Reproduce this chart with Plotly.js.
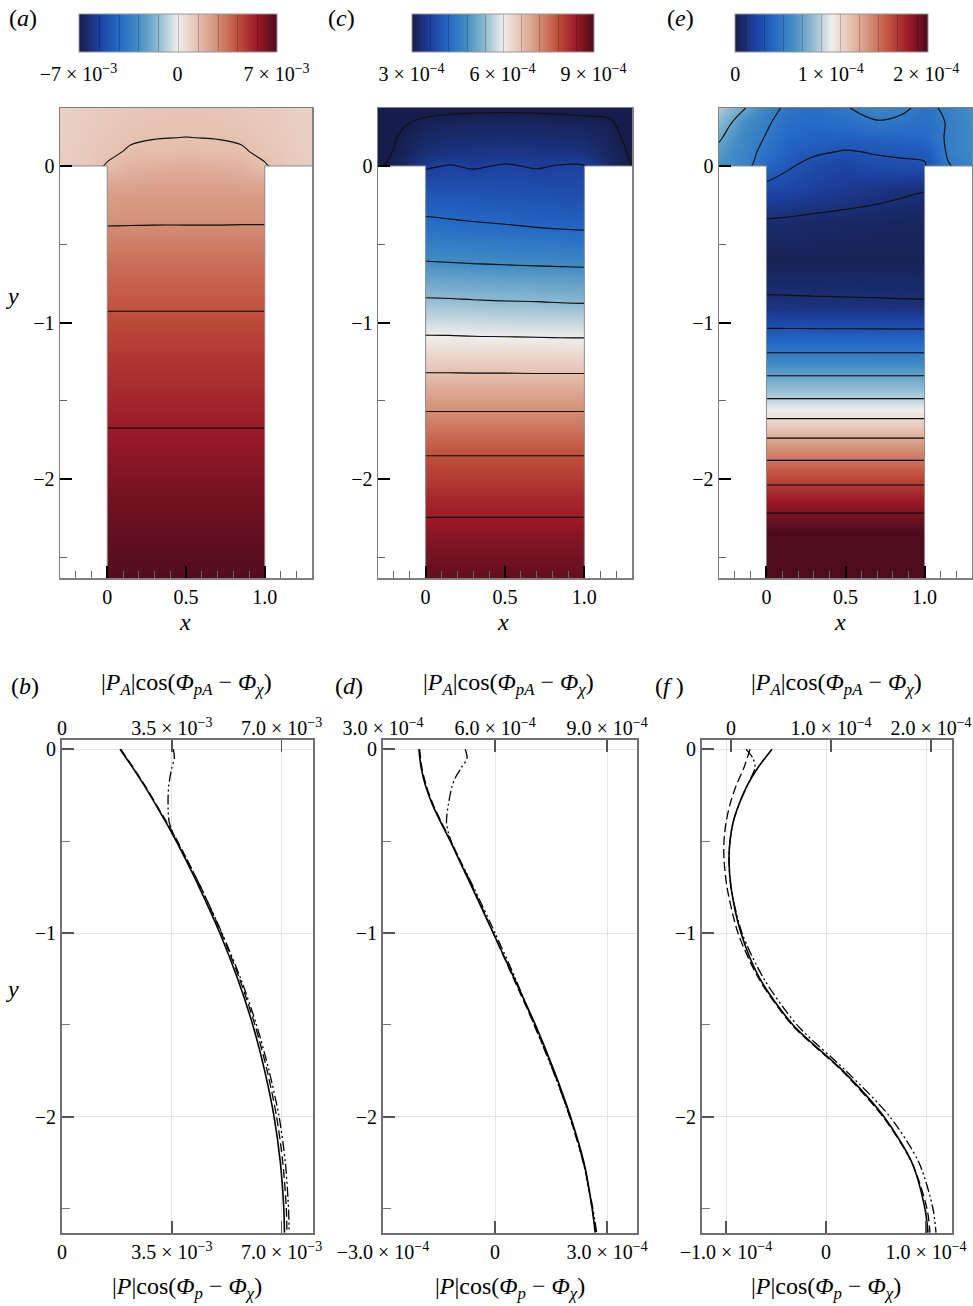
<!DOCTYPE html>
<html><head><meta charset="utf-8">
<script src="https://cdn.plot.ly/plotly-3.0.1.min.js"></script>
<style>html,body{margin:0;padding:0;background:#fff}</style>
</head><body><div id="chart" style="width:973px;height:1306px"></div>
<script>
// ================= DATA =================
// contour grid (x across the cavity/channel, y depth)
const X_GRID = [-0.3, -0.15, 0, 0.15, 0.3, 0.5, 0.7, 0.85, 1.0, 1.15, 1.3];
const Y_GRID = [0.37, 0.28, 0.18, 0.09, 0, -0.15, -0.35, -0.6, -0.9, -1.2, -1.5, -1.8, -2.1, -2.4, -2.63];

// (a) field, units of 1e-3 (rows follow Y_GRID)
const Z_A = [
  [0.85, 1.0, 1.1, 1.18, 1.22, 1.25, 1.22, 1.18, 1.1, 1.0, 0.85],
  [0.88, 1.02, 1.13, 1.22, 1.27, 1.3, 1.27, 1.22, 1.13, 1.02, 0.88],
  [0.9, 1.05, 1.18, 1.33, 1.39, 1.405, 1.39, 1.33, 1.18, 1.05, 0.9],
  [0.95, 1.1, 1.28, 1.47, 1.48, 1.52, 1.48, 1.47, 1.28, 1.1, 0.95],
  [1.0, 1.15, 1.45, 1.75, 1.85, 1.9, 1.85, 1.75, 1.45, 1.15, 1.0],
  [2.25, 2.25, 2.25, 2.28, 2.3, 2.3, 2.3, 2.28, 2.25, 2.25, 2.25],
  [2.7, 2.7, 2.7, 2.71, 2.72, 2.72, 2.72, 2.73, 2.73, 2.73, 2.73],
  [3.45, 3.45, 3.45, 3.45, 3.45, 3.45, 3.45, 3.45, 3.45, 3.45, 3.45],
  [4.14, 4.14, 4.14, 4.14, 4.14, 4.14, 4.14, 4.14, 4.14, 4.14, 4.14],
  [4.8, 4.8, 4.8, 4.8, 4.8, 4.8, 4.8, 4.8, 4.8, 4.8, 4.8],
  [5.3, 5.3, 5.3, 5.3, 5.3, 5.3, 5.3, 5.3, 5.3, 5.3, 5.3],
  [5.82, 5.82, 5.82, 5.82, 5.82, 5.82, 5.82, 5.82, 5.82, 5.82, 5.82],
  [6.3, 6.3, 6.3, 6.3, 6.3, 6.3, 6.3, 6.3, 6.3, 6.3, 6.3],
  [6.68, 6.68, 6.68, 6.68, 6.68, 6.68, 6.68, 6.68, 6.68, 6.68, 6.68],
  [6.9, 6.9, 6.9, 6.9, 6.9, 6.9, 6.9, 6.9, 6.9, 6.9, 6.9]
];
// (c) field, units of 1e-4
const Z_C = [
  [2.6, 2.75, 2.85, 2.9, 2.92, 2.93, 2.92, 2.9, 2.88, 2.85, 2.65],
  [2.7, 2.95, 3.08, 3.12, 3.14, 3.15, 3.14, 3.12, 3.1, 3.06, 2.8],
  [2.8, 3.05, 3.2, 3.25, 3.27, 3.28, 3.27, 3.25, 3.22, 3.12, 2.9],
  [2.85, 3.1, 3.3, 3.38, 3.4, 3.42, 3.4, 3.38, 3.35, 3.18, 2.95],
  [2.95, 3.18, 3.55, 3.62, 3.56, 3.63, 3.57, 3.62, 3.62, 3.22, 2.99],
  [3.88, 3.88, 3.88, 3.87, 3.86, 3.84, 3.82, 3.8, 3.78, 3.78, 3.78],
  [4.25, 4.25, 4.25, 4.22, 4.19, 4.15, 4.1, 4.07, 4.05, 4.05, 4.05],
  [4.78, 4.78, 4.78, 4.76, 4.74, 4.72, 4.7, 4.69, 4.68, 4.68, 4.68],
  [5.55, 5.55, 5.55, 5.54, 5.52, 5.5, 5.49, 5.47, 5.46, 5.46, 5.46],
  [6.3, 6.3, 6.3, 6.3, 6.29, 6.29, 6.28, 6.28, 6.28, 6.28, 6.28],
  [7.05, 7.05, 7.05, 7.05, 7.05, 7.05, 7.05, 7.05, 7.05, 7.05, 7.05],
  [7.72, 7.72, 7.72, 7.72, 7.72, 7.72, 7.72, 7.72, 7.72, 7.72, 7.72],
  [8.2, 8.2, 8.2, 8.2, 8.2, 8.2, 8.2, 8.2, 8.2, 8.2, 8.2],
  [8.62, 8.62, 8.62, 8.62, 8.62, 8.62, 8.62, 8.62, 8.62, 8.62, 8.62],
  [8.85, 8.85, 8.85, 8.85, 8.85, 8.85, 8.85, 8.85, 8.85, 8.85, 8.85]
];
// (e) field, units of 1e-4
const Z_E = [
  [0.88, 0.72, 0.56, 0.46, 0.44, 0.49, 0.56, 0.53, 0.46, 0.53, 0.62],
  [0.8, 0.62, 0.52, 0.43, 0.41, 0.44, 0.49, 0.47, 0.44, 0.51, 0.6],
  [0.72, 0.58, 0.49, 0.4, 0.38, 0.37, 0.38, 0.39, 0.41, 0.52, 0.58],
  [0.66, 0.56, 0.46, 0.36, 0.32, 0.29, 0.31, 0.32, 0.33, 0.52, 0.58],
  [0.62, 0.56, 0.4, 0.31, 0.26, 0.22, 0.265, 0.275, 0.285, 0.49, 0.56],
  [0.25, 0.25, 0.25, 0.235, 0.2, 0.17, 0.14, 0.12, 0.105, 0.105, 0.105],
  [0.09, 0.09, 0.09, 0.08, 0.07, 0.06, 0.055, 0.05, 0.05, 0.05, 0.05],
  [0.03, 0.03, 0.03, 0.03, 0.03, 0.03, 0.03, 0.03, 0.03, 0.03, 0.03],
  [0.125, 0.125, 0.125, 0.123, 0.121, 0.119, 0.117, 0.115, 0.114, 0.114, 0.114],
  [0.51, 0.51, 0.51, 0.51, 0.51, 0.51, 0.51, 0.51, 0.51, 0.51, 0.51],
  [0.92, 0.92, 0.92, 0.92, 0.92, 0.92, 0.92, 0.92, 0.92, 0.92, 0.92],
  [1.4, 1.4, 1.4, 1.4, 1.4, 1.4, 1.4, 1.4, 1.4, 1.4, 1.4],
  [1.78, 1.78, 1.78, 1.78, 1.78, 1.78, 1.78, 1.78, 1.78, 1.78, 1.78],
  [2.09, 2.09, 2.09, 2.09, 2.09, 2.09, 2.09, 2.09, 2.09, 2.09, 2.09],
  [2.2, 2.2, 2.2, 2.2, 2.2, 2.2, 2.2, 2.2, 2.2, 2.2, 2.2]
];

// geometry of the cavity (walls are white)
const CAV_X0 = 0, CAV_X1 = 1, CAV_TOP = 0;

// colour bar ticks
const CB_A_VALS = [-7, 0, 7];
const CB_A_TEXT = ['−7 × 10<sup>−3</sup>', '0', '7 × 10<sup>−3</sup>'];
const CB_C_VALS = [3, 6, 9];
const CB_C_TEXT = ['3 × 10<sup>−4</sup>', '6 × 10<sup>−4</sup>', '9 × 10<sup>−4</sup>'];
const CB_E_VALS = [0, 1, 2];
const CB_E_TEXT = ['0', '1 × 10<sup>−4</sup>', '2 × 10<sup>−4</sup>'];

// profiles: y positions
const Y_PROF = [0, -0.1, -0.2, -0.3, -0.4, -0.5, -0.6, -0.75, -1.0, -1.25, -1.5, -1.75, -2.0, -2.25, -2.5, -2.63];
// (b) units 1e-3
const B_SOLID = [1.85, 2.25, 2.63, 2.98, 3.32, 3.64, 3.94, 4.37, 5.03, 5.6, 6.08, 6.46, 6.76, 6.96, 7.07, 7.09];
const B_DASH  = [1.87, 2.27, 2.65, 3.0, 3.35, 3.68, 3.98, 4.42, 5.08, 5.66, 6.15, 6.54, 6.84, 7.04, 7.15, 7.17];
const B_DDD_Y = [0, -0.05, -0.1, -0.2, -0.3, -0.4, -0.5, -0.6, -0.75, -1.0, -1.25, -1.5, -1.75, -2.0, -2.25, -2.5, -2.63];
const B_DDD   = [3.55, 3.58, 3.5, 3.4, 3.38, 3.42, 3.66, 3.98, 4.42, 5.1, 5.7, 6.2, 6.6, 6.92, 7.12, 7.22, 7.24];
// (d) units 1e-4 (bottom axis); dash-dot-dot on top axis
const D_SOLID = [-2.04, -1.98, -1.86, -1.68, -1.45, -1.2, -0.97, -0.62, -0.05, 0.52, 1.08, 1.58, 2.02, 2.38, 2.6, 2.68];
const D_DASH  = [-2.02, -1.96, -1.84, -1.66, -1.43, -1.18, -0.95, -0.6, -0.05, 0.5, 1.05, 1.56, 2.0, 2.37, 2.6, 2.7];
const D_DDD_Y = [0, -0.05, -0.1, -0.15, -0.2, -0.3, -0.4, -0.5, -0.6, -0.75, -1.0, -1.25, -1.5, -1.75, -2.0, -2.25, -2.5, -2.63];
const D_DDD   = [5.2, 5.25, 5.1, 4.95, 4.85, 4.75, 4.7, 4.82, 5.05, 5.42, 6.0, 6.55, 7.05, 7.55, 8.0, 8.36, 8.62, 8.72];
// (f) units 1e-4
const F_SOLID = [-0.54, -0.68, -0.79, -0.87, -0.93, -0.96, -0.97, -0.95, -0.85, -0.66, -0.33, 0.17, 0.58, 0.86, 0.99, 1.02];
const F_DASH  = [-0.76, -0.82, -0.9, -0.96, -1.0, -1.02, -1.02, -0.99, -0.88, -0.67, -0.34, 0.16, 0.57, 0.86, 1.01, 1.04];
const F_DDD_Y = [0, -0.05, -0.1, -0.2, -0.3, -0.4, -0.5, -0.6, -0.75, -1.0, -1.25, -1.5, -1.75, -2.0, -2.25, -2.5, -2.63];
const F_DDD   = [0.15, 0.22, 0.24, 0.16, 0.08, 0.02, -0.01, -0.02, 0.0, 0.11, 0.33, 0.66, 1.15, 1.59, 1.88, 2.02, 2.05];

// axis ticks bottom row
const B_BOT_VALS = [0, 3.5, 7], B_BOT_TEXT = ['0', '3.5 × 10<sup>−3</sup>', '7.0 × 10<sup>−3</sup>'];
const B_TOP_VALS = [0, 3.5, 7], B_TOP_TEXT = ['0', '3.5 × 10<sup>−3</sup>', '7.0 × 10<sup>−3</sup>'];
const D_BOT_VALS = [-3, 0, 3], D_BOT_TEXT = ['−3.0 × 10<sup>−4</sup>', '0', '3.0 × 10<sup>−4</sup>'];
const D_TOP_VALS = [3, 6, 9], D_TOP_TEXT = ['3.0 × 10<sup>−4</sup>', '6.0 × 10<sup>−4</sup>', '9.0 × 10<sup>−4</sup>'];
const F_BOT_VALS = [-1, 0, 1], F_BOT_TEXT = ['−1.0 × 10<sup>−4</sup>', '0', '1.0 × 10<sup>−4</sup>'];
const F_TOP_VALS = [0, 1, 2], F_TOP_TEXT = ['0', '1.0 × 10<sup>−4</sup>', '2.0 × 10<sup>−4</sup>'];

// ================= LAYOUT HELPERS =================
const W = 973, H = 1306;
const FONT = 'Liberation Serif, Times New Roman, serif';
const px = v => v / W;
const py = v => 1 - v / H;
const TF = {family: FONT, size: 20, color: '#000'};

const CSCALE = [[0,'#171d4a'],[0.1,'#1c3f9e'],[0.2,'#2468c6'],[0.3,'#428dc4'],[0.4,'#8fbad0'],
  [0.5,'#f0eeec'],[0.6,'#e6c0b0'],[0.7,'#d38d74'],[0.8,'#c0503c'],[0.9,'#9c1a28'],[1,'#4d0b1c']];

const traces = [];
const layout = {
  width: W, height: H,
  margin: {l:0, r:0, t:0, b:0, autoexpand:false},
  paper_bgcolor: '#fff', plot_bgcolor: '#fff',
  showlegend: false, font: {family: FONT, color: '#000'},
  annotations: []
};

const topPanels = [
  {z: Z_A, id: '', dom: [60, 312], zmin: -7, zmax: 7, lev: {start:-5.6, end:5.6, size:1.4},
   cb: [177.5, 198.4], tv: CB_A_VALS, tt: CB_A_TEXT},
  {z: Z_C, id: '2', dom: [378, 632], zmin: 3, zmax: 9, lev: {start:3.0, end:8.4, size:0.6},
   cb: [502.5, 181.6], tv: CB_C_VALS, tt: CB_C_TEXT},
  {z: Z_E, id: '3', dom: [719, 972], zmin: 0, zmax: 2.02, lev: {start:0.1, end:1.9, size:0.2},
   cb: [831.7, 193.3], tv: CB_E_VALS, tt: CB_E_TEXT}
];

topPanels.forEach(p => {
  const xa = 'x' + p.id, ya = 'y' + p.id;
  traces.push({
    type: 'contour', x: X_GRID, y: Y_GRID, z: p.z, xaxis: xa, yaxis: ya,
    zmin: p.zmin, zmax: p.zmax, zauto: false, colorscale: CSCALE,
    autocontour: false, contours: Object.assign({coloring: 'heatmap', showlines: true}, p.lev),
    line: {color: 'rgba(0,0,0,0.22)', width: 1, smoothing: 1},
    hoverinfo: 'skip', showscale: true,
    colorbar: {orientation: 'h', x: px(p.cb[0]), xanchor: 'center', y: py(14), yanchor: 'top',
      len: p.cb[1] / W, lenmode: 'fraction', thickness: 38, thicknessmode: 'pixels',
      xpad: 0, ypad: 0, outlinewidth: 1, outlinecolor: '#999',
      tickmode: 'array', tickvals: p.tv, ticktext: p.tt,
      ticks: 'outside', ticklen: 5, tickcolor: 'rgba(0,0,0,0)', tickfont: TF}
  });
  traces.push({
    type: 'contour', x: X_GRID, y: Y_GRID, z: p.z, xaxis: xa, yaxis: ya,
    autocontour: false, contours: Object.assign({coloring: 'none'}, p.lev),
    line: {color: '#111', width: 1.1, smoothing: 1}, showscale: false, hoverinfo: 'skip'
  });
  // white walls either side of the cavity
  traces.push({type: 'scatter', mode: 'lines', xaxis: xa, yaxis: ya, hoverinfo: 'skip',
    x: [-5, CAV_X0, CAV_X0, -5, -5], y: [CAV_TOP, CAV_TOP, -9, -9, CAV_TOP],
    fill: 'toself', fillcolor: '#fff', line: {color: '#8a8a8a', width: 1}});
  traces.push({type: 'scatter', mode: 'lines', xaxis: xa, yaxis: ya, hoverinfo: 'skip',
    x: [CAV_X1, 5, 5, CAV_X1, CAV_X1], y: [CAV_TOP, CAV_TOP, -9, -9, CAV_TOP],
    fill: 'toself', fillcolor: '#fff', line: {color: '#8a8a8a', width: 1}});

  layout['xaxis' + p.id] = {
    domain: [px(p.dom[0]), px(p.dom[1])], anchor: ya, range: [-0.3, 1.3],
    tickmode: 'array', tickvals: [0, 0.5, 1], ticktext: ['0', '0.5', '1.0'],
    ticks: 'inside', ticklen: 12, tickwidth: 2, tickcolor: '#000',
    minor: {tickmode: 'linear', tick0: 0, dtick: 0.1, ticks: 'inside', ticklen: 7, tickwidth: 1, tickcolor: '#666', showgrid: false},
    showline: true, linecolor: '#808080', linewidth: 1.5, mirror: true,
    showgrid: false, zeroline: false, tickfont: TF, fixedrange: true
  };
  layout['yaxis' + p.id] = {
    domain: [py(578), py(108)], anchor: xa, range: [-2.63, 0.37],
    tickmode: 'array', tickvals: [0, -1, -2], ticktext: ['0', '−1', '−2'],
    ticks: 'inside', ticklen: 12, tickwidth: 2, tickcolor: '#000',
    minor: {tickmode: 'array', tickvals: [-0.5, -1.5, -2.5], ticks: 'inside', ticklen: 7, tickwidth: 1, tickcolor: '#666', showgrid: false},
    showline: true, linecolor: '#808080', linewidth: 1.5, mirror: true,
    showgrid: false, zeroline: false, tickfont: TF, fixedrange: true
  };
});

// ---------- bottom row ----------
const DASH = '9px,4px';
const DDD = '10px,3px,2px,3px,2px,3px';
const botPanels = [
  {bx: '4', tx: '7', dom: [62, 313], brange: [-0.001, 8], trange: [-0.001, 8],
   solid: B_SOLID, dash: B_DASH, dddY: B_DDD_Y, ddd: B_DDD,
   bv: B_BOT_VALS, bt: B_BOT_TEXT, tv: B_TOP_VALS, tt: B_TOP_TEXT},
  {bx: '5', tx: '8', dom: [383, 637], brange: [-3.001, 3.8], trange: [2.999, 9.8],
   solid: D_SOLID, dash: D_DASH, dddY: D_DDD_Y, ddd: D_DDD,
   bv: D_BOT_VALS, bt: D_BOT_TEXT, tv: D_TOP_VALS, tt: D_TOP_TEXT},
  {bx: '6', tx: '9', dom: [702, 952], brange: [-1.24, 1.26], trange: [-0.29, 2.21],
   solid: F_SOLID, dash: F_DASH, dddY: F_DDD_Y, ddd: F_DDD,
   bv: F_BOT_VALS, bt: F_BOT_TEXT, tv: F_TOP_VALS, tt: F_TOP_TEXT}
];

botPanels.forEach(p => {
  const xb = 'x' + p.bx, yb = 'y' + p.bx, xt = 'x' + p.tx;
  traces.push({type: 'scatter', mode: 'lines', x: p.solid, y: Y_PROF, xaxis: xb, yaxis: yb,
    line: {color: '#000', width: 1.6, shape: 'spline', smoothing: 0.8}, hoverinfo: 'skip'});
  traces.push({type: 'scatter', mode: 'lines', x: p.dash, y: Y_PROF, xaxis: xb, yaxis: yb,
    line: {color: '#000', width: 1.3, dash: DASH, shape: 'spline', smoothing: 0.8}, hoverinfo: 'skip'});
  traces.push({type: 'scatter', mode: 'lines', x: p.ddd, y: p.dddY, xaxis: xt, yaxis: yb,
    line: {color: '#000', width: 1.3, dash: DDD, shape: 'spline', smoothing: 0.8}, hoverinfo: 'skip'});

  layout['xaxis' + p.bx] = {
    domain: [px(p.dom[0]), px(p.dom[1])], anchor: yb, range: p.brange,
    tickmode: 'array', tickvals: p.bv, ticktext: p.bt,
    ticks: 'inside', ticklen: 12, tickwidth: 1.5, tickcolor: '#555',
    showline: true, linecolor: '#707070', linewidth: 2, mirror: true,
    showgrid: true, gridcolor: '#e4e4e4', gridwidth: 1, zeroline: false, tickfont: TF, fixedrange: true
  };
  layout['xaxis' + p.tx] = {
    overlaying: xb, anchor: yb, side: 'top', range: p.trange,
    tickmode: 'array', tickvals: p.tv, ticktext: p.tt,
    ticks: 'inside', ticklen: 12, tickwidth: 1.5, tickcolor: '#555',
    showline: false, showgrid: false, zeroline: false, tickfont: TF, fixedrange: true
  };
  layout['yaxis' + p.bx] = {
    domain: [py(1233), py(740)], anchor: xb, range: [-2.632, 0.05],
    tickmode: 'array', tickvals: [0, -1, -2], ticktext: ['0', '−1', '−2'],
    ticks: 'inside', ticklen: 12, tickwidth: 1.5, tickcolor: '#555',
    minor: {tickmode: 'array', tickvals: [-0.5, -1.5, -2.5], ticks: 'inside', ticklen: 8, tickwidth: 1, tickcolor: '#777', showgrid: false},
    showline: true, linecolor: '#707070', linewidth: 2, mirror: true,
    showgrid: true, gridcolor: '#e4e4e4', gridwidth: 1, zeroline: false, tickfont: TF, fixedrange: true
  };
});

// ---------- text ----------
function ann(text, x, y, size, xanchor) {
  layout.annotations.push({text, x: px(x), y: py(y), xref: 'paper', yref: 'paper',
    xanchor: xanchor || 'center', yanchor: 'middle', showarrow: false,
    font: {family: FONT, size: size, color: '#000'}});
}
ann('(<i>a</i>)', 23, 18, 24);
ann('(<i>c</i>)', 341, 18, 24);
ann('(<i>e</i>)', 680, 18, 24);
ann('(<i>b</i>)', 25, 686, 24);
ann('(<i>d</i>)', 349, 686, 24);
ann('(<i>f</i> )', 669, 686, 24);
const TOPT = '|<i>P</i><sub><i>A</i></sub>|cos(<i>Φ</i><sub><i>pA</i></sub> − <i>Φ</i><sub><i>χ</i></sub>)';
const BOTT = '|<i>P</i>|cos(<i>Φ</i><sub><i>p</i></sub> − <i>Φ</i><sub><i>χ</i></sub>)';
ann(TOPT, 186, 684, 24);
ann(TOPT, 509, 684, 24);
ann(TOPT, 836, 684, 24);
ann(BOTT, 187, 1288, 24);
ann(BOTT, 510, 1288, 24);
ann(BOTT, 826, 1288, 24);
ann('<i>x</i>', 185, 622, 24);
ann('<i>x</i>', 503, 622, 24);
ann('<i>x</i>', 840, 622, 24);
ann('<i>y</i>', 12, 296, 24);
ann('<i>y</i>', 12, 989, 24);

Plotly.newPlot('chart', traces, layout, {staticPlot: true, displayModeBar: false});
</script>
</body></html>
